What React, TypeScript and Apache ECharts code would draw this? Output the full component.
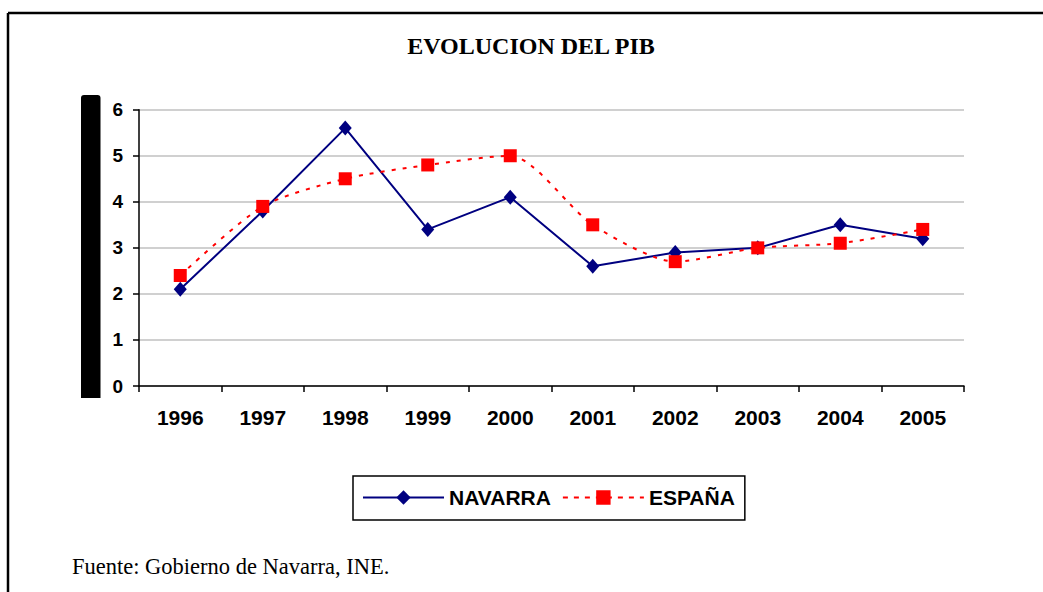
import React, { useEffect, useRef } from "react";
import * as echarts from "echarts";

const years = ["1996", "1997", "1998", "1999", "2000", "2001", "2002", "2003", "2004", "2005"];
const navarra = [2.1, 3.8, 5.6, 3.4, 4.1, 2.6, 2.9, 3.0, 3.5, 3.2];
const espana = [2.4, 3.9, 4.5, 4.8, 5.0, 3.5, 2.7, 3.0, 3.1, 3.4];
const yTicks = { min: 0, max: 6, interval: 1 };
const titleText = "EVOLUCION DEL PIB";
const sourceText = "Fuente: Gobierno de Navarra, INE.";

export default function App() {
  const ref = useRef<HTMLDivElement>(null);
  useEffect(() => {
    if (!ref.current) return;
    const chart = echarts.init(ref.current, undefined, { renderer: "svg" });
    const axisFont = "'Liberation Sans', Arial, sans-serif";
    chart.setOption({
      animation: false,
      backgroundColor: "#ffffff",
      grid: { left: 139, right: 79, top: 109.7, bottom: 206, containLabel: false },
      xAxis: {
        type: "category",
        data: years,
        boundaryGap: true,
        axisLine: { lineStyle: { color: "#000", width: 1.5 } },
        axisTick: { show: true, length: 6, lineStyle: { color: "#000", width: 1.5 } },
        axisLabel: { color: "#000", fontFamily: axisFont, fontWeight: "bold", fontSize: 21, margin: 21 },
        splitLine: { show: false },
      },
      yAxis: {
        type: "value",
        min: yTicks.min,
        max: yTicks.max,
        interval: yTicks.interval,
        axisLine: { show: true, lineStyle: { color: "#000", width: 1.5 } },
        axisTick: { show: true, length: 6, lineStyle: { color: "#000", width: 1.5 } },
        axisLabel: { color: "#000", fontFamily: axisFont, fontWeight: "bold", fontSize: 19, margin: 16 },
        splitLine: { show: true, lineStyle: { color: "#c0c0c0", width: 1.5 } },
      },
      legend: {
        left: 353,
        top: 476,
        padding: [11, 10, 12, 9],
        borderColor: "#000",
        borderWidth: 1.5,
        itemWidth: 81,
        itemHeight: 18,
        itemGap: 11,
        textStyle: { color: "#000", fontFamily: axisFont, fontWeight: "bold", fontSize: 21 },
        data: [
          { name: "NAVARRA" },
          { name: "ESPAÑA", lineStyle: { type: [5, 6] } },
        ],
      },
      series: [
        {
          name: "NAVARRA",
          type: "line",
          data: navarra,
          symbol: "diamond",
          symbolSize: [13, 15],
          lineStyle: { color: "#000080", width: 2 },
          itemStyle: { color: "#000080" },
          z: 3,
        },
        {
          name: "ESPAÑA",
          type: "line",
          data: espana,
          smooth: 0.25,
          symbol: "rect",
          symbolSize: 13,
          lineStyle: { color: "#ff0000", width: 2, type: [4, 7] },
          itemStyle: { color: "#ff0000" },
          z: 4,
        },
      ],
      graphic: [
        { type: "line", shape: { x1: 8, y1: 13, x2: 1043, y2: 13 }, style: { stroke: "#000", lineWidth: 2.5 } },
        { type: "line", shape: { x1: 8, y1: 13, x2: 8, y2: 592 }, style: { stroke: "#000", lineWidth: 2.5 } },
        { type: "rect", shape: { x: 81, y: 95, width: 19.5, height: 303, r: [3, 3, 0, 0] }, style: { fill: "#000" } },
        {
          type: "text",
          x: 531,
          y: 45.5,
          style: {
            text: titleText,
            fill: "#000",
            font: "bold 24px 'Liberation Serif', 'Times New Roman', serif",
            textAlign: "center",
            textVerticalAlign: "middle",
          },
        },
        {
          type: "text",
          x: 72,
          y: 566,
          style: {
            text: sourceText,
            fill: "#000",
            font: "22.5px 'Liberation Serif', 'Times New Roman', serif",
            textAlign: "left",
            textVerticalAlign: "middle",
          },
        },
      ],
    });
    return () => chart.dispose();
  }, []);
  return <div ref={ref} style={{ position: "absolute", left: 0, top: 0, width: 1043, height: 592 }} />;
}
